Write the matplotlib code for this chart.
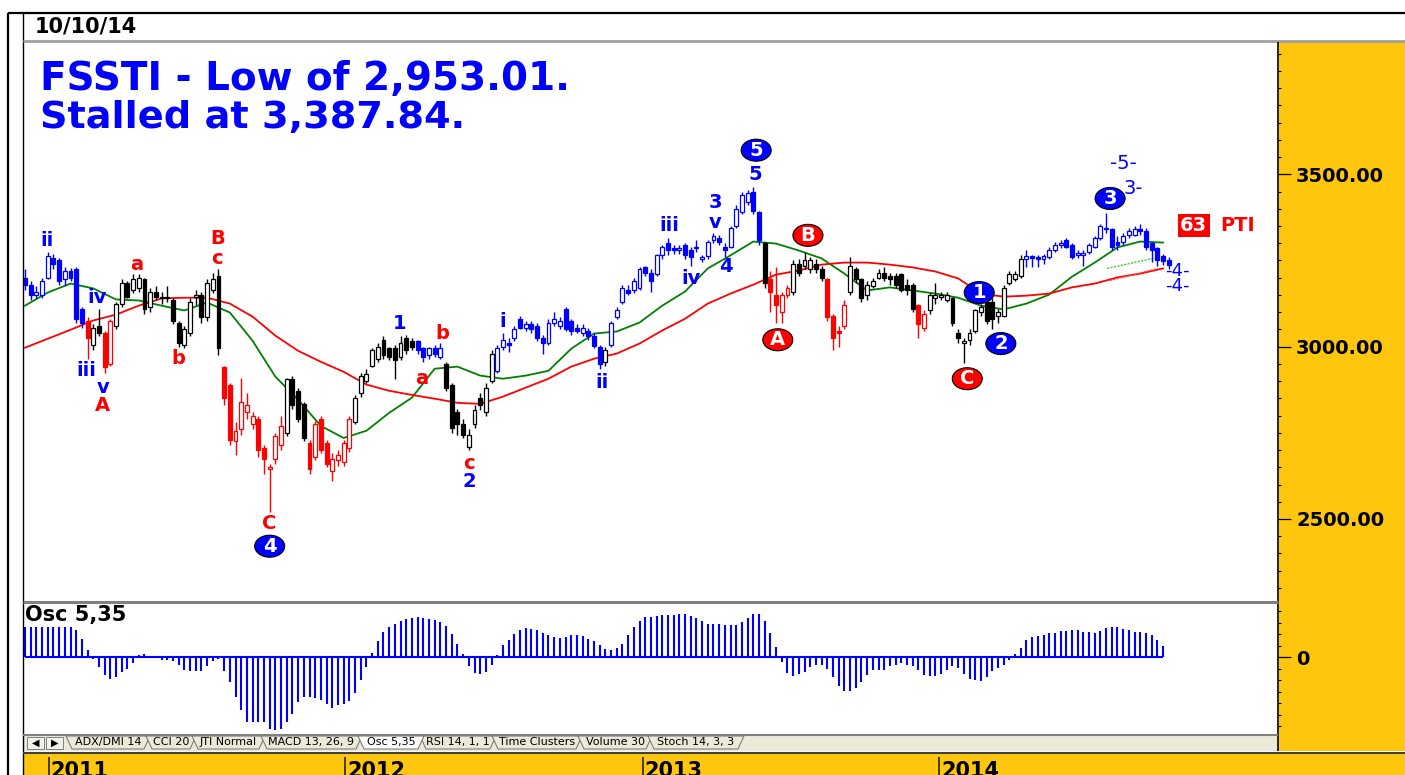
import matplotlib
matplotlib.use("Agg")
import matplotlib.pyplot as plt
import matplotlib.dates as mdates
import matplotlib.transforms as mtrans
from matplotlib.patches import Rectangle, Ellipse, Polygon
from matplotlib.lines import Line2D
from matplotlib.ticker import FixedLocator, MultipleLocator, FormatStrFormatter
import pandas as pd

W, H = 1405, 775
YELLOW = '#FFC60E'
BLUE = '#0000FF'
RED = '#FF0000'
COLORS = {'B': BLUE, 'K': '#000000', 'R': RED}

# weekly FSSTI candles, 3 Dec 2010 - 10 Oct 2014
opens = [3200, 3180, 3150, 3150, 3200, 3258, 3250, 3195, 3220, 3225, 3110, 3075, 3005, 3060, 3040, 2950,
         3060, 3125, 3185, 3165, 3170, 3195, 3115, 3160, 3145, 3140, 3135, 3070, 3005, 3040, 3145, 3150,
         3085, 3165, 3205, 2940, 2890, 2725, 2760, 2810, 2775, 2790, 2705, 2645, 2675, 2715, 2750, 2905,
         2870, 2835, 2720, 2680, 2790, 2720, 2640, 2670, 2665, 2705, 2780, 2865, 2900, 2945, 2965, 3020,
         2995, 2997, 2970, 3025, 3015, 3015, 2995, 2975, 2995, 2970, 2950, 2890, 2810, 2775, 2710, 2775,
         2850, 2810, 2900, 2930, 3000, 3010, 3025, 3080, 3055, 3065, 3060, 3025, 3010, 3070, 3060, 3110,
         3075, 3055, 3040, 3045, 3030, 3000, 2955, 3005, 3085, 3130, 3165, 3165, 3170, 3230, 3215, 3210,
         3265, 3300, 3285, 3280, 3295, 3280, 3285, 3255, 3262, 3310, 3315, 3290, 3290, 3350, 3390, 3420,
         3450, 3390, 3300, 3195, 3150, 3100, 3150, 3160, 3240, 3235, 3225, 3240, 3225, 3195, 3090, 3045,
         3060, 3160, 3225, 3195, 3150, 3175, 3200, 3215, 3205, 3205, 3210, 3180, 3180, 3120, 3055, 3105,
         3140, 3145, 3135, 3140, 3040, 3010, 3020, 3045, 3100, 3130, 3130, 3090, 3090, 3185, 3195, 3205,
         3255, 3260, 3258, 3255, 3260, 3280, 3295, 3310, 3295, 3265, 3265, 3275, 3290, 3315, 3345, 3340,
         3305, 3305, 3325, 3325, 3340, 3335, 3300, 3285, 3262, 3252]
highs = [3225, 3190, 3175, 3200, 3275, 3268, 3258, 3232, 3228, 3230, 3115, 3085, 3065, 3110, 3045, 3080,
         3130, 3195, 3190, 3210, 3212, 3200, 3170, 3175, 3160, 3175, 3140, 3075, 3060, 3140, 3165, 3160,
         3195, 3215, 3225, 2945, 2895, 2780, 2910, 2865, 2810, 2800, 2715, 2660, 2750, 2800, 2910, 2915,
         2880, 2840, 2730, 2785, 2800, 2730, 2690, 2700, 2730, 2800, 2860, 2925, 2935, 2995, 3010, 3030,
         3000, 3005, 3032, 3035, 3025, 3020, 3000, 3000, 3005, 3012, 2955, 2895, 2820, 2790, 2760, 2830,
         2865, 2895, 2990, 3005, 3040, 3025, 3060, 3090, 3075, 3075, 3070, 3035, 3080, 3100, 3085, 3115,
         3080, 3065, 3065, 3055, 3040, 3005, 3000, 3075, 3115, 3180, 3180, 3200, 3230, 3235, 3225, 3270,
         3295, 3315, 3295, 3295, 3300, 3290, 3310, 3265, 3310, 3330, 3325, 3300, 3350, 3410, 3450, 3455,
         3462, 3395, 3305, 3220, 3230, 3160, 3180, 3250, 3255, 3275, 3260, 3255, 3235, 3200, 3095, 3060,
         3135, 3260, 3230, 3200, 3190, 3200, 3225, 3230, 3215, 3215, 3215, 3195, 3185, 3125, 3105, 3155,
         3185, 3160, 3160, 3145, 3050, 3025, 3050, 3110, 3125, 3135, 3140, 3110, 3180, 3220, 3220, 3265,
         3280, 3265, 3265, 3270, 3290, 3305, 3310, 3315, 3300, 3280, 3280, 3300, 3320, 3355, 3387, 3345,
         3320, 3330, 3345, 3350, 3355, 3345, 3305, 3290, 3268, 3260]
lows = [3165, 3135, 3140, 3140, 3195, 3225, 3180, 3180, 3190, 3070, 3055, 2965, 2990, 3030, 2925, 2945,
        3050, 3115, 3140, 3155, 3160, 3095, 3100, 3135, 3125, 3130, 3065, 3000, 2995, 3030, 3120, 3070,
        3075, 3155, 2975, 2830, 2715, 2685, 2745, 2790, 2760, 2680, 2630, 2521, 2660, 2700, 2740, 2820,
        2780, 2725, 2630, 2670, 2690, 2650, 2610, 2655, 2655, 2695, 2775, 2855, 2895, 2940, 2955, 2965,
        2960, 2905, 2960, 2980, 2990, 2980, 2955, 2965, 2970, 2965, 2870, 2750, 2745, 2735, 2700, 2765,
        2815, 2800, 2895, 2925, 2990, 2985, 3015, 3050, 3045, 3040, 3015, 2980, 3005, 3060, 3050, 3045,
        3035, 3040, 3030, 3020, 2995, 2935, 2945, 3000, 3080, 3125, 3150, 3155, 3165, 3205, 3160, 3205,
        3255, 3265, 3270, 3270, 3255, 3235, 3275, 3245, 3255, 3300, 3295, 3260, 3285, 3345, 3385, 3410,
        3385, 3295, 3170, 3100, 3070, 3070, 3140, 3150, 3205, 3225, 3215, 3215, 3190, 3075, 2990, 3000,
        3050, 3150, 3185, 3130, 3135, 3170, 3195, 3190, 3180, 3170, 3160, 3150, 3100, 3025, 3045, 3095,
        3125, 3135, 3130, 3060, 3010, 2953, 3005, 3040, 3090, 3065, 3050, 3070, 3085, 3180, 3190, 3200,
        3230, 3230, 3230, 3240, 3255, 3275, 3285, 3285, 3255, 3258, 3235, 3270, 3285, 3310, 3330, 3280,
        3280, 3295, 3315, 3320, 3325, 3280, 3245, 3235, 3238, 3226]
closes = [3180, 3150, 3160, 3190, 3262, 3240, 3190, 3220, 3200, 3080, 3070, 3025, 3055, 3040, 2940, 3075,
          3125, 3185, 3145, 3195, 3200, 3110, 3160, 3145, 3140, 3145, 3075, 3010, 3050, 3130, 3150, 3085,
          3185, 3195, 2995, 2850, 2730, 2755, 2840, 2830, 2800, 2700, 2675, 2650, 2740, 2770, 2905, 2830,
          2790, 2735, 2645, 2775, 2700, 2660, 2675, 2685, 2720, 2790, 2850, 2915, 2920, 2990, 3000, 2975,
          2970, 2960, 3012, 2990, 3000, 2990, 2970, 2995, 2978, 2995, 2880, 2765, 2775, 2745, 2745, 2815,
          2830, 2880, 2980, 2995, 3020, 3005, 3050, 3055, 3065, 3050, 3025, 3010, 3070, 3080, 3075, 3050,
          3045, 3045, 3055, 3030, 3003, 2950, 2990, 3070, 3105, 3170, 3155, 3190, 3225, 3215, 3190, 3265,
          3290, 3280, 3280, 3285, 3265, 3260, 3290, 3258, 3305, 3320, 3305, 3280, 3345, 3400, 3440, 3445,
          3395, 3310, 3185, 3160, 3120, 3150, 3170, 3240, 3215, 3250, 3250, 3225, 3200, 3085, 3025, 3040,
          3120, 3235, 3195, 3140, 3180, 3190, 3215, 3200, 3195, 3180, 3165, 3165, 3110, 3065, 3095, 3150,
          3150, 3150, 3150, 3070, 3025, 3015, 3040, 3105, 3115, 3075, 3080, 3100, 3170, 3210, 3210, 3255,
          3262, 3258, 3255, 3262, 3280, 3295, 3300, 3290, 3260, 3272, 3272, 3295, 3315, 3350, 3340, 3290,
          3295, 3320, 3335, 3340, 3335, 3290, 3280, 3250, 3248, 3238]
# trend colour of each bar: B blue, K black, R red
trend = ("B" * 11 + "R" * 1 + "K" * 2 + "R" * 2 + "K" * 19 + "R" * 11 + "K" * 4 + "R" * 8 +
         "K" * 11 + "B" * 5 + "K" * 9 + "B" * 19 + "K" * 1 + "B" * 27 + "K" * 1 + "R" * 4 +
         "K" * 6 + "R" * 4 + "K" * 12 + "R" * 2 + "K" * 17 + "B" * 26)

# moving averages read every 4th week
ma_fast = [3119, 3157, 3183, 3169, 3137, 3134, 3119, 3105, 3128, 3099, 3017, 2913, 2846, 2770, 2735, 2756,
           2808, 2852, 2936, 2942, 2916, 2907, 2916, 2930, 2994, 3038, 3044, 3070, 3119, 3160, 3227, 3265,
           3305, 3299, 3279, 3256, 3212, 3163, 3172, 3163, 3154, 3142, 3119, 3108, 3125, 3151, 3203, 3244,
           3288, 3305, 3302]
ma_slow = [2997, 3023, 3049, 3076, 3093, 3119, 3140, 3142, 3142, 3125, 3087, 3032, 2988, 2956, 2927, 2890,
           2872, 2860, 2849, 2837, 2834, 2855, 2881, 2907, 2942, 2965, 2980, 3009, 3047, 3081, 3125, 3154,
           3180, 3209, 3221, 3238, 3244, 3244, 3238, 3230, 3218, 3198, 3154, 3145, 3148, 3154, 3172, 3183,
           3201, 3212, 3227]

# Osc 5,35 histogram
osc = [130, 130, 130, 130, 130, 130, 130, 130, 130, 116, 80, 32, -7, -44, -80, -97, -87, -65, -51, -26,
       7, 12, 6, -2, -12, -14, -17, -36, -58, -62, -62, -61, -41, -17, -7, -61, -109, -174, -232, -283,
       -283, -283, -283, -312, -319, -312, -283, -247, -196, -174, -174, -178, -188, -203, -220, -210,
       -203, -191, -157, -101, -44, 17, 70, 109, 130, 145, 157, 164, 171, 174, 171, 167, 160, 152, 133,
       101, 58, 14, -41, -70, -72, -65, -36, 10, 51, 75, 101, 119, 128, 123, 119, 106, 94, 87, 84, 87,
       97, 97, 90, 80, 70, 51, 36, 32, 41, 58, 94, 130, 157, 174, 174, 177, 181, 181, 184, 188, 186, 177,
       171, 157, 145, 145, 145, 141, 138, 141, 152, 171, 188, 188, 157, 104, 44, -22, -70, -84, -75, -65,
       -44, -36, -33, -51, -87, -128, -148, -148, -133, -109, -80, -58, -55, -55, -41, -33, -26, -33, -41,
       -58, -77, -81, -81, -72, -55, -41, -48, -72, -96, -102, -106, -87, -62, -48, -33, -12, 14, 39, 72,
       87, 90, 94, 104, 104, 112, 115, 116, 116, 109, 107, 104, 112, 126, 130, 129, 123, 119, 109, 109,
       104, 97, 72, 46]

price_ticks = [2500, 3000, 3500]
year_labels = [2011, 2012, 2013, 2014]
tab_names = ['ADX/DMI 14', 'CCI 20', 'JTI Normal', 'MACD 13, 26, 9', 'Osc 5,35',
             'RSI 14, 1, 1', 'Time Clusters', 'Volume 30', 'Stoch 14, 3, 3']

# wave labels: (bar position, price, text, colour)
wave_labels = [
    (3.9, 3308, 'ii', BLUE), (10.7, 2930, 'iii', BLUE), (12.7, 3142, 'iv', BLUE),
    (13.7, 2881, 'v', BLUE), (13.7, 2828, 'A', RED), (19.7, 3238, 'a', RED),
    (26.9, 2965, 'b', RED), (33.8, 3314, 'B', RED), (33.8, 3256, 'c', RED),
    (42.9, 2488, 'C', RED), (65.9, 3067, '1', BLUE), (73.3, 3038, 'b', RED),
    (69.8, 2907, 'a', RED), (78.0, 2660, 'c', RED), (78.0, 2608, '2', BLUE),
    (84.0, 3073, 'i', BLUE), (101.4, 2895, 'ii', BLUE), (113.2, 3352, 'iii', BLUE),
    (117.0, 3198, 'iv', BLUE), (121.3, 3419, '3', BLUE), (121.3, 3360, 'v', BLUE),
    (123.2, 3233, '4', BLUE), (128.3, 3500, '5', BLUE),
]
# circled wave counts
badges = [(128.5, 3570, '5', BLUE), (43.0, 2421, '4', BLUE), (167.7, 3157, '1', BLUE),
          (171.5, 3009, '2', BLUE), (190.7, 3430, '3', BLUE), (132.3, 3020, 'A', RED),
          (137.6, 3323, 'B', RED), (165.6, 2907, 'C', RED)]
# projection targets (plain weight)
targets = [(193.1, 3532, '-5-', 14), (194.7, 3459, '3-', 14), (202.6, 3220, '-4-', 13),
           (202.6, 3177, '-4-', 13)]

dates = pd.date_range(start='2010-12-03', periods=len(closes), freq='W-FRI')
xs = mdates.date2num(dates)
PX_WEEK = 5.69


def bar_x(pos):
    return xs[0] + 7.0 * pos


def px_to_pos(px):
    return (px - 25) / PX_WEEK


fig = plt.figure(figsize=(W / 100, H / 100), dpi=100)
fig.patch.set_facecolor('white')


def axes_px(x0, y0, x1, y1):
    return fig.add_axes([x0 / W, 1 - y1 / H, (x1 - x0) / W, (y1 - y0) / H])


def fig_line(x0, y0, x1, y1, color, lw):
    fig.add_artist(Line2D([x0 / W, x1 / W], [1 - y0 / H, 1 - y1 / H], color=color, lw=lw,
                          transform=fig.transFigure, solid_capstyle='butt'))


def fig_rect(x0, y0, x1, y1, fc, ec='none', z=0):
    fig.add_artist(Rectangle((x0 / W, 1 - y1 / H), (x1 - x0) / W, (y1 - y0) / H,
                             transform=fig.transFigure, facecolor=fc, edgecolor=ec, lw=0.7, zorder=z))


# yellow price scale and tab bar backgrounds
fig_rect(1279, 42, W, 751, YELLOW)
fig_rect(23, 736, 1278, 751, '#ECE9D8')

# ---- main price panel
ax = axes_px(23, 42, 1278, 601)
for s in ax.spines.values():
    s.set_visible(False)
xl = (bar_x(px_to_pos(23)), bar_x(px_to_pos(1278)))
ax.set_xlim(*xl)
ax.set_ylim(2262, 3884)

for x, o, h, l, c, t in zip(xs, opens, highs, lows, closes, trend):
    cc = COLORS[t]
    ax.vlines(x, l, h, color=cc, lw=1.0, zorder=3)
    bottom = min(o, c)
    height = max(abs(c - o), 4)
    face = 'white' if c > o else cc
    ax.add_patch(Rectangle((x - 2.4, bottom), 4.8, height, facecolor=face, edgecolor=cc,
                           lw=0.9, zorder=4))

ma_x = xs[::4][:len(ma_fast)]
ax.plot(ma_x, ma_fast, color='#008000', lw=1.3, zorder=2)
ax.plot(ma_x, ma_slow, color='#FF0000', lw=1.3, zorder=2)

# projection channel stubs
ax.plot([bar_x(190.2), bar_x(199.0)], [3227, 3259], color='#33CC33', lw=1.0, ls=(0, (1.5, 1)), zorder=2)
ax.plot([bar_x(190.7), bar_x(199.1)], [3192, 3227], color='#FF5050', lw=1.0, ls=(0, (1.5, 1)), zorder=2)

ax.yaxis.tick_right()
ax.yaxis.set_major_locator(FixedLocator(price_ticks))
ax.yaxis.set_major_formatter(FormatStrFormatter('%.2f'))
ax.yaxis.set_minor_locator(MultipleLocator(50))
ax.tick_params(axis='y', which='major', direction='out', length=9, width=0.9, pad=4, labelsize=14)
ax.tick_params(axis='y', which='minor', direction='out', length=2.5, width=0.8)
ax.tick_params(axis='x', which='both', bottom=False, labelbottom=False)
for t in ax.get_yticklabels():
    t.set_fontweight('bold')

for pos, p, s, col in wave_labels:
    ax.text(bar_x(pos), p, s, color=col, fontsize=14, fontweight='bold', ha='center', va='center', zorder=6)

for pos, p, s, col in badges:
    tr = fig.dpi_scale_trans + mtrans.ScaledTranslation(bar_x(pos), p, ax.transData)
    ax.add_patch(Ellipse((0, 0), 0.30, 0.22, transform=tr, facecolor=col, edgecolor='black',
                         lw=0.8, zorder=7))
    ax.text(bar_x(pos), p, s, color='white', fontsize=14, fontweight='bold', ha='center',
            va='center', zorder=8)

for pos, p, s, fs in targets:
    ax.text(bar_x(pos), p, s, color=BLUE, fontsize=fs, ha='center', va='center', zorder=6)

ax.text(bar_x(205.4), 3352, '63', color='white', fontsize=14, fontweight='bold', ha='center',
        va='center', bbox=dict(boxstyle='square,pad=0.12', fc=RED, ec='none'), zorder=6)
ax.text(bar_x(213.1), 3352, 'PTI', color=RED, fontsize=14, fontweight='bold', ha='center',
        va='center', zorder=6)

fig.text(40 / W, 1 - 90 / H, 'FSSTI - Low of 2,953.01.', color=BLUE, fontsize=28,
         fontweight='bold', va='baseline')
fig.text(40 / W, 1 - 128 / H, 'Stalled at 3,387.84.', color=BLUE, fontsize=27.5,
         fontweight='bold', va='baseline')

# ---- oscillator panel
ax2 = axes_px(23, 603, 1278, 735)
for s in ax2.spines.values():
    s.set_visible(False)
ax2.set_xlim(*xl)
ax2.set_ylim(-339, 235)
osc_x = xs[:len(osc)]
ax2.vlines(osc_x, 0, osc, color=BLUE, lw=1.5)
ax2.hlines(0, osc_x[0], osc_x[-1], color=BLUE, lw=1.5)
ax2.yaxis.tick_right()
ax2.yaxis.set_major_locator(FixedLocator([0]))
ax2.yaxis.set_minor_locator(MultipleLocator(50))
ax2.tick_params(axis='y', which='major', direction='out', length=9, width=0.9, pad=4, labelsize=14)
ax2.tick_params(axis='y', which='minor', direction='out', length=2.5, width=0.8)
ax2.tick_params(axis='x', which='both', bottom=False, labelbottom=False)
for t in ax2.get_yticklabels():
    t.set_fontweight('bold')
fig.text(25 / W, 1 - 615 / H, 'Osc 5,35', fontsize=15, fontweight='bold', va='center')

# ---- bottom date band
ax3 = axes_px(23, 754, W, 775)
ax3.set_facecolor(YELLOW)
for s in ax3.spines.values():
    s.set_visible(False)
ax3.set_xlim(bar_x(px_to_pos(23)), bar_x(px_to_pos(W)))
ax3.set_ylim(0, 1)
ax3.set_xticks([])
ax3.set_yticks([])
for yr in year_labels:
    d = mdates.date2num(pd.Timestamp(yr, 1, 1))
    ax3.vlines(d, 0, 0.85, color='#4A3A00', lw=1.4)
    ax3.text(d + 2.5, 0.68, str(yr), fontsize=15, fontweight='bold', ha='left', va='top')

# ---- tab strip
bounds = [68, 148, 194, 263, 360, 422, 494, 580, 650, 742]
order = [i for i in range(len(tab_names)) if tab_names[i] != 'Osc 5,35'] + [tab_names.index('Osc 5,35')]
for i in order:
    x0, x1 = bounds[i], bounds[i + 1]
    active = tab_names[i] == 'Osc 5,35'
    poly = [((x0 - 2) / W, 1 - 736 / H), ((x1 + 2) / W, 1 - 736 / H),
            ((x1 - 4) / W, 1 - 749 / H), ((x0 + 4) / W, 1 - 749 / H)]
    fig.add_artist(Polygon(poly, closed=True, transform=fig.transFigure,
                           facecolor='white' if active else '#ECE9D8', edgecolor='#707070', lw=0.7))
    fig.text((x0 + x1) / 2 / W, 1 - 742 / H, tab_names[i], fontsize=8, ha='center', va='center')
for bx0, sym in [(27, '\u25C0'), (46, '\u25B6')]:
    fig_rect(bx0, 737, bx0 + 17, 749, '#F4F2E8', ec='#808080', z=3)
    fig.text((bx0 + 8.5) / W, 1 - 743 / H, sym, fontsize=7, ha='center', va='center')

# ---- frame lines
fig_line(8, 13, W, 13, 'black', 1.6)
fig_line(8, 13, 8, H, 'black', 1.6)
fig_line(23, 13, 23, H, 'black', 1.0)
fig_line(23, 41, W, 41, '#A0A0A0', 2.0)
fig_line(1278, 42, 1278, 751, 'black', 1.2)
fig_line(23, 602, 1278, 602, '#808080', 2.2)
fig_line(23, 735, 1278, 735, '#808080', 1.5)
fig_line(23, 752.5, W, 752.5, '#404040', 1.5)
fig.text(35 / W, 1 - 26 / H, '10/10/14', fontsize=15, fontweight='bold', va='center')

plt.savefig('out.png', dpi=100)
plt.close()
